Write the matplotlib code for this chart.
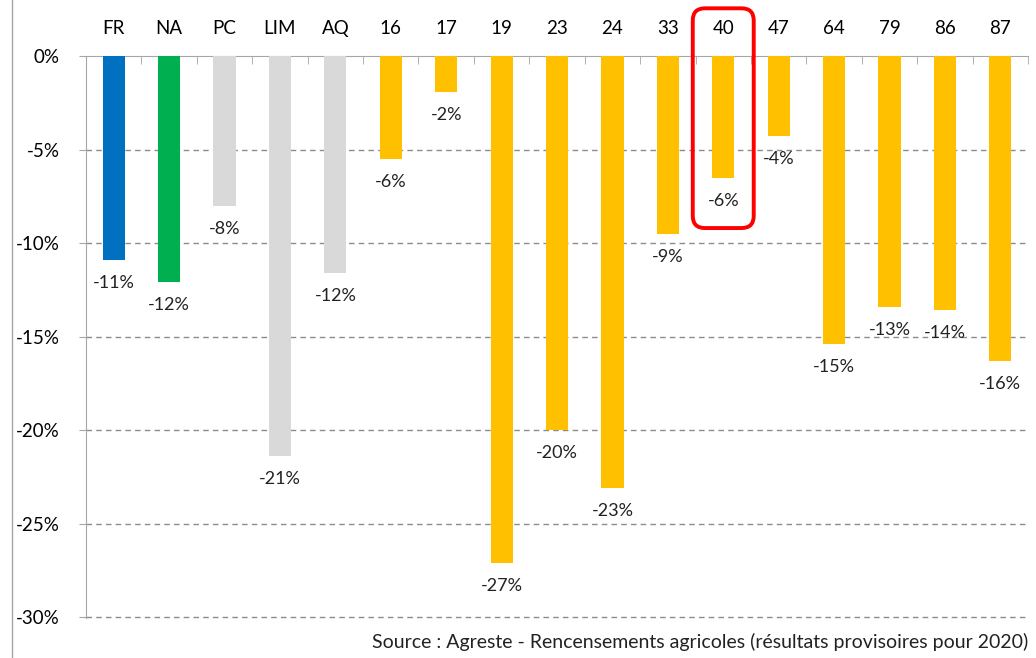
import matplotlib.pyplot as plt
from matplotlib.patches import FancyBboxPatch
import numpy as np

plt.rcParams['font.family'] = ['Lato', 'DejaVu Sans']

categories = ['FR', 'NA', 'PC', 'LIM', 'AQ', '16', '17', '19', '23', '24',
              '33', '40', '47', '64', '79', '86', '87']
values = [-10.9, -12.1, -8.0, -21.4, -11.6, -5.5, -1.9, -27.1, -20.0, -23.1,
          -9.5, -6.5, -4.3, -15.4, -13.4, -13.6, -16.3]
labels = ['-11%', '-12%', '-8%', '-21%', '-12%', '-6%', '-2%', '-27%', '-20%', '-23%',
          '-9%', '-6%', '-4%', '-15%', '-13%', '-14%', '-16%']
colors = ['#0070C0', '#00B050'] + ['#D9D9D9'] * 3 + ['#FFC000'] * 12

fig = plt.figure(figsize=(10.36, 6.58), dpi=100)
ax = fig.add_axes([0.083, 0.0608, 0.9093, 0.8541])

x = np.arange(len(categories))
ax.bar(x, values, width=0.4, color=colors, zorder=3)

for xi, v, lab in zip(x, values, labels):
    ax.annotate(lab, (xi, v), xytext=(0, -23), textcoords='offset pixels',
                ha='center', va='center', fontsize=13, color='#222222')

ax.set_xlim(-0.5, len(categories) - 0.5)
ax.set_ylim(-30.05, 0)

# category labels on top, tick marks at category borders
ax.xaxis.tick_top()
ax.set_xticks(x)
ax.set_xticklabels(categories, fontsize=13.5)
ax.tick_params(axis='x', which='major', length=0, pad=14)
ax.set_xticks(np.arange(-0.5, len(categories)), minor=True)
ax.tick_params(axis='x', which='minor', direction='in', length=6, color='#A6A6A6',
               top=True, bottom=False)

yt = np.arange(0, -31, -5)
ax.set_yticks(yt)
ax.set_yticklabels(['%d%%' % v for v in yt], fontsize=13.5)
ax.tick_params(axis='y', length=5, color='#A6A6A6', pad=14)

ax.hlines(yt[1:], -0.5, len(categories) - 0.5, color='#8C8C8C', lw=1,
          linestyles=(0, (4, 3)), zorder=1, clip_on=False)

for s in ['right', 'bottom']:
    ax.spines[s].set_visible(False)
for s in ['top', 'left']:
    ax.spines[s].set_color('#A6A6A6')

# red highlight around 40
box = FancyBboxPatch((10.45, -9.2), 1.1, 11.75,
                     boxstyle='round,pad=0,rounding_size=0.22',
                     mutation_aspect=2.95, fill=False, ec='#FF0000', lw=2.8,
                     clip_on=False, zorder=5)
ax.add_patch(box)

# left frame line of the picture
fig.add_artist(plt.Line2D([0.0116, 0.0116], [0, 1], color='#A6A6A6', lw=1))

fig.text(0.993, 0.025, 'Source : Agreste - Rencensements agricoles (résultats provisoires pour 2020)',
         ha='right', va='center', fontsize=14, color='#222222')

fig.savefig('out.png', dpi=100)
